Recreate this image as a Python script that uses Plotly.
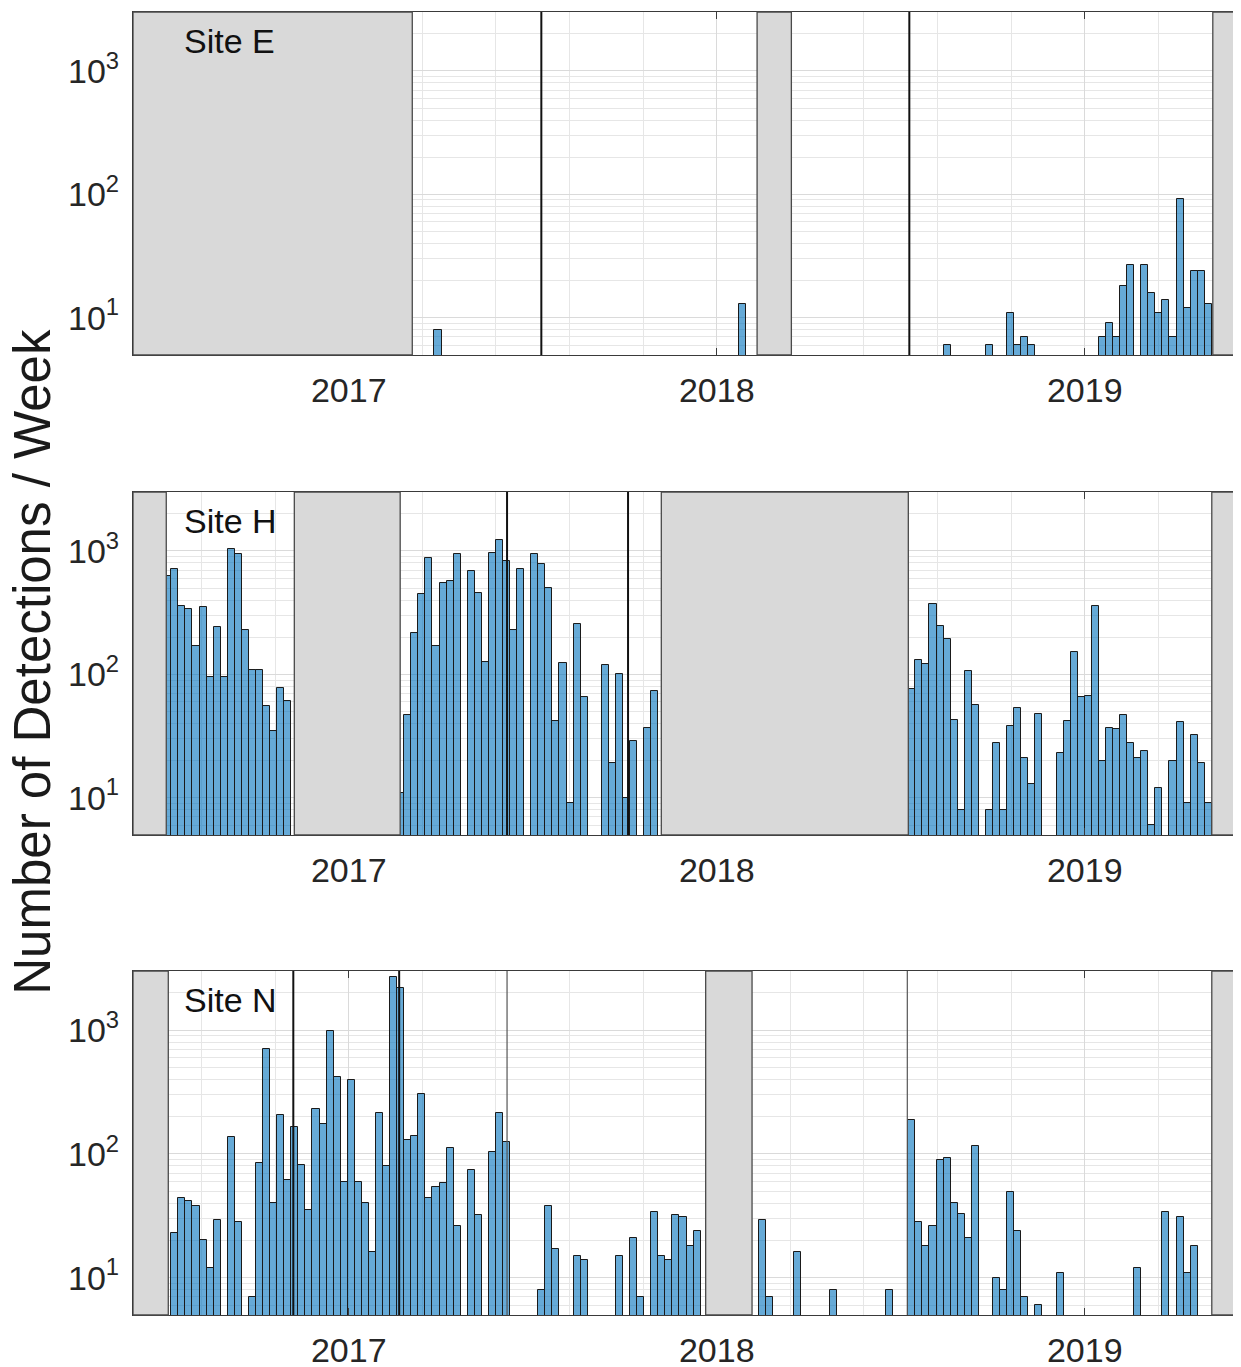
import math
import pandas as pd
import plotly.graph_objects as go
from plotly.subplots import make_subplots

# ── Data: weekly detection counts (0 = no detections that week) ─────────────
E_SEGMENTS = [
    ("2017-03-27", [8]),
    ("2018-01-23", [13]),
    ("2018-07-10", [0, 0, 0, 0, 0, 6, 0, 0, 0, 0, 0, 6, 0, 0, 11, 6, 7, 6,
                    0, 0, 0, 0, 0, 0, 0, 0, 0, 7, 9, 7, 18, 27, 0, 27, 16, 11,
                    14, 7, 91, 12, 24, 24, 13]),
]
H_SEGMENTS = [
    ("2016-07-02", [628, 720, 357, 336, 171, 353, 95, 243, 96, 1038, 950, 229,
                    109, 109, 55, 35, 78, 61]),
    ("2017-02-18", [11, 47, 218, 447, 873, 171, 554, 572, 951, 0, 689, 452,
                    125, 963, 1235, 826, 229, 707, 0, 940, 776, 497, 42, 123,
                    9, 256, 66, 0, 0, 119, 19, 100, 10, 29, 0, 37, 73]),
    ("2018-07-10", [76, 131, 121, 371, 248, 192, 43, 8, 107, 56, 0, 8, 28, 8,
                    38, 53, 21, 13, 48, 0, 0, 23, 42, 153, 66, 67, 360, 20, 37,
                    36, 47, 28, 21, 24, 6, 12, 0, 20, 41, 9, 32, 19, 9]),
]
N_SEGMENTS = [
    ("2016-07-09", [23, 44, 42, 38, 20, 12, 29, 0, 137, 28, 0, 7, 84, 706, 40,
                    208, 62, 165, 82, 35, 229, 173, 975, 417, 59, 392, 59, 40,
                    16, 212, 80, 2700, 2170, 129, 139, 302, 44, 54, 58, 112,
                    26, 0, 74, 32, 0, 104, 212, 125, 0, 0, 0, 0, 8, 38, 17, 0,
                    0, 15, 14, 0, 0, 0, 0, 15, 0, 21, 7, 0, 34, 15, 14, 32, 31,
                    18, 24]),
    ("2018-02-05", [0, 29, 7, 0, 0, 0, 16, 0, 0, 0, 0, 8, 0, 0, 0, 0, 0, 0, 0,
                    8, 0, 0]),
    ("2018-07-10", [188, 28, 18, 26, 90, 92, 40, 33, 21, 116, 0, 0, 10, 8, 49,
                    24, 7, 0, 6, 0, 0, 11, 0, 0, 0, 0, 0, 0, 0, 0, 0, 0, 12, 0,
                    0, 0, 34, 0, 31, 11, 18]),
]

# periods with no recording (grey boxes)
E_GAPS = [("2016-06-01", "2017-03-05"), ("2018-02-10", "2018-03-16"),
          ("2019-05-08", "2019-06-01")]
H_GAPS = [("2016-06-01", "2016-07-04"), ("2016-11-08", "2017-02-21"),
          ("2017-11-07", "2018-07-10"), ("2019-05-07", "2019-06-01")]
N_GAPS = [("2016-06-01", "2016-07-06"), ("2017-12-21", "2018-02-05"),
          ("2019-05-07", "2019-06-01")]

# vertical markers: (date, thick?)
E_LINES = [("2017-07-11", True), ("2018-07-11", True)]
H_LINES = [("2017-06-07", True), ("2017-10-05", True)]
N_LINES = [("2016-11-07", True), ("2017-02-20", True),
           ("2017-06-07", False), ("2018-07-09", False)]

SITES = ["Site E", "Site H", "Site N"]
YEAR_TICKS = ["2017-01-01", "2018-01-01", "2019-01-01"]
YEAR_LABELS = ["2017", "2018", "2019"]
Y_TICKS = [10, 100, 1000]
Y_LABELS = ["10<sup>1</sup>", "10<sup>2</sup>", "10<sup>3</sup>"]

# ── Style ────────────────────────────────────────────────────────────────────
_FONT = "Liberation Sans, Arial, sans-serif"
_TEXT = "#262626"
_BAR = "rgba(0,114,189,0.6)"
_EDGE = "#1a1a1a"
_GREY = "#d9d9d9"
_GRID = "#dadada"
_GRID_MINOR = "#e6e6e6"
_AXIS = "#3a3a3a"
_WEEK_MS = 7 * 86400000

DOMAINS = [(0.7368, 1.0), (0.3684, 0.6316), (0.0, 0.2640)]
X_RANGE = ["2016-06-01", "2019-06-01"]
Y_RANGE = [math.log10(5), math.log10(3000)]
Y_MINOR = [m * 10 ** d for d in range(0, 4) for m in range(2, 10)]

fig = make_subplots(rows=3, cols=1)

panels = [(E_SEGMENTS, E_GAPS, E_LINES), (H_SEGMENTS, H_GAPS, H_LINES),
          (N_SEGMENTS, N_GAPS, N_LINES)]

for i, (segments, gaps, lines) in enumerate(panels):
    row = i + 1
    xs, ys = [], []
    for start, counts in segments:
        weeks = pd.date_range(start, periods=len(counts), freq="7D")
        for w, c in zip(weeks, counts):
            if c > 0:
                xs.append(w)
                ys.append(c)
    fig.add_trace(go.Bar(
        x=xs, y=ys, width=_WEEK_MS, offset=0,
        marker=dict(color=_BAR, line=dict(color=_EDGE, width=1)),
        showlegend=False,
        hovertemplate="%{x|%d %b %Y}<br><b>%{y}</b><extra></extra>",
    ), row=row, col=1)

    xref = "x" if row == 1 else f"x{row}"
    yref = "y domain" if row == 1 else f"y{row} domain"
    for g0, g1 in gaps:
        fig.add_shape(type="rect", xref=xref, yref=yref,
                      x0=g0, x1=g1, y0=0, y1=1, layer="above",
                      fillcolor=_GREY, line=dict(color="#4a4a4a", width=1.3))
    for d, thick in lines:
        fig.add_shape(type="line", xref=xref, yref=yref,
                      x0=d, x1=d, y0=0, y1=1, layer="above",
                      line=dict(color="#111111" if thick else "#555555",
                                width=2 if thick else 1.2))

    fig.add_annotation(text=SITES[i], xref=f"{xref} domain",
                       yref=yref, x=0.044, y=0.915,
                       xanchor="left", yanchor="middle", showarrow=False,
                       font=dict(family=_FONT, size=34, color="#111111"))

    fig.update_xaxes(
        row=row, col=1, type="date", range=X_RANGE,
        domain=[0, 1], automargin=False,
        tickmode="array", tickvals=YEAR_TICKS, ticktext=YEAR_LABELS,
        ticks="inside", ticklen=7, tickcolor=_AXIS, tickwidth=1,
        ticklabelstandoff=5,
        tickfont=dict(family=_FONT, size=34, color=_TEXT),
        showgrid=True, gridcolor=_GRID, gridwidth=1,
        minor=dict(tick0="2017-01-01", dtick=73 * 86400000,
                   showgrid=True, gridcolor=_GRID_MINOR, ticks=""),
        showline=True, linecolor=_AXIS, linewidth=1.3, mirror="allticks",
        zeroline=False,
    )
    fig.update_yaxes(
        row=row, col=1, type="log", range=Y_RANGE, domain=list(DOMAINS[i]),
        automargin=False,
        tickmode="array", tickvals=Y_TICKS, ticktext=Y_LABELS,
        ticks="inside", ticklen=9, tickcolor=_AXIS, tickwidth=1,
        ticklabelstandoff=6,
        tickfont=dict(family=_FONT, size=34, color=_TEXT),
        showgrid=True, gridcolor=_GRID, gridwidth=1,
        minor=dict(tickmode="array", tickvals=Y_MINOR, ticks="inside",
                   ticklen=5, tickcolor=_AXIS, showgrid=True,
                   gridcolor=_GRID_MINOR),
        showline=True, linecolor=_AXIS, linewidth=1.3, mirror="allticks",
        zeroline=False,
    )

fig.add_annotation(text="Number of Detections / Week", xref="paper",
                   yref="paper", x=-0.091, y=0.501, textangle=-90,
                   xanchor="center", yanchor="middle", showarrow=False,
                   font=dict(family=_FONT, size=51, color="#1a1a1a"))

# the page adds an 8 px body margin, so the figure is 8 px smaller each way
fig.update_layout(
    template=None,
    width=1233, height=1359,
    paper_bgcolor="#FFFFFF", plot_bgcolor="#FFFFFF",
    margin=dict(l=125, r=4, t=4, b=52),
    bargap=0,
    font=dict(family=_FONT, color=_TEXT),
)

fig.write_html("out.html")
